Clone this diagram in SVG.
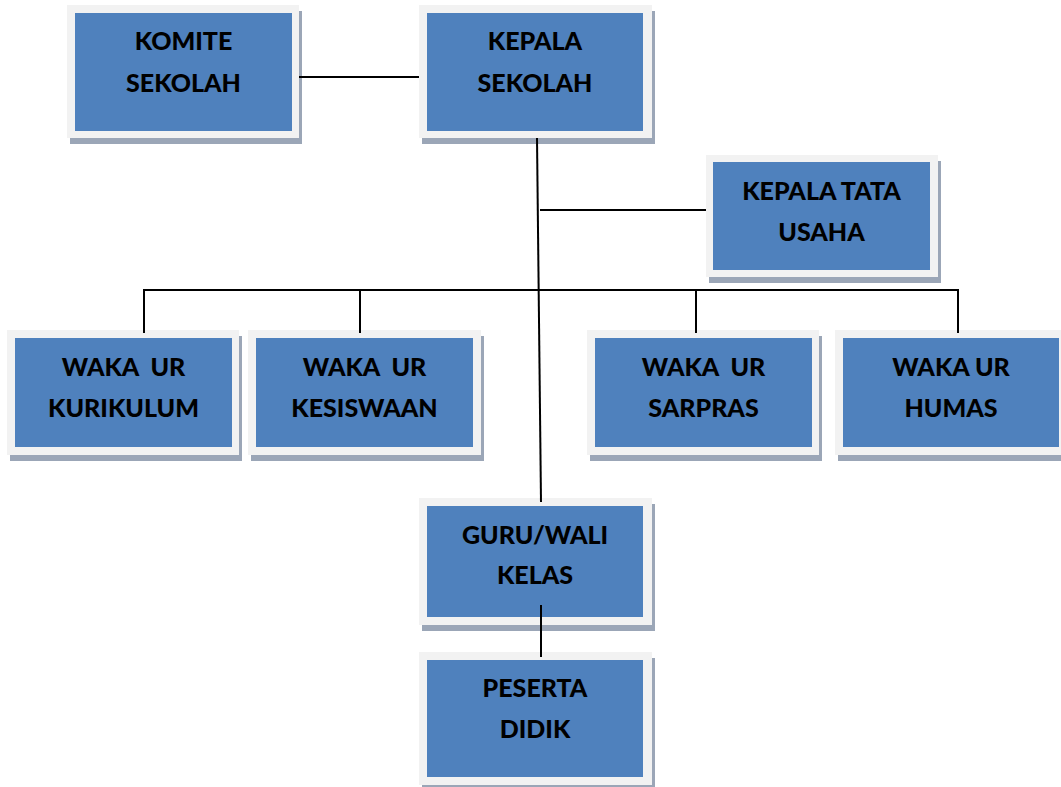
<svg xmlns="http://www.w3.org/2000/svg" width="1061" height="787" viewBox="0 0 1061 787">
<style>
.sh{fill:#9ba6b7}
.fr{fill:#f2f2f2}
.bl{fill:#4f81bd}
.t{font-family:Lato,"Liberation Sans",sans-serif;font-weight:900;font-size:25px;fill:#000;text-anchor:middle;white-space:pre}
.c{stroke:#000;stroke-width:2;fill:none}
</style>
<rect width="1061" height="787" fill="#fff"/>
<g id="komite">
<rect class="sh" x="70" y="11" width="232" height="133"/>
<rect class="fr" x="67" y="5" width="232" height="133"/>
<rect class="bl" x="75" y="13" width="217" height="118"/>
<text class="t" x="183.5" y="50">KOMITE</text>
<text class="t" x="183.5" y="92">SEKOLAH</text>
</g>
<g id="kepala">
<rect class="sh" x="422" y="11" width="233" height="133"/>
<rect class="fr" x="419" y="5" width="233" height="133"/>
<rect class="bl" x="427" y="13" width="216" height="118"/>
<text class="t" x="535" y="50">KEPALA</text>
<text class="t" x="535" y="92">SEKOLAH</text>
</g>
<g id="tata">
<rect class="sh" x="709" y="161" width="232" height="122"/>
<rect class="fr" x="706" y="155" width="232" height="122"/>
<rect class="bl" x="713" y="162" width="217" height="108"/>
<text class="t" x="821.5" y="200">KEPALA TATA</text>
<text class="t" x="821.5" y="241">USAHA</text>
</g>
<g id="kurikulum">
<rect class="sh" x="10" y="336" width="232" height="125"/>
<rect class="fr" x="7" y="330" width="232" height="125"/>
<rect class="bl" x="15" y="338" width="217" height="109"/>
<text class="t" x="123.5" y="376">WAKA  UR</text>
<text class="t" x="123.5" y="417">KURIKULUM</text>
</g>
<g id="kesiswaan">
<rect class="sh" x="251" y="336" width="233" height="125"/>
<rect class="fr" x="248" y="330" width="233" height="125"/>
<rect class="bl" x="256" y="338" width="217" height="109"/>
<text class="t" x="364.5" y="376">WAKA  UR</text>
<text class="t" x="364.5" y="417">KESISWAAN</text>
</g>
<g id="sarpras">
<rect class="sh" x="590" y="336" width="232" height="125"/>
<rect class="fr" x="587" y="330" width="232" height="125"/>
<rect class="bl" x="595" y="338" width="217" height="109"/>
<text class="t" x="703.5" y="376">WAKA  UR</text>
<text class="t" x="703.5" y="417">SARPRAS</text>
</g>
<g id="humas">
<rect class="sh" x="838" y="336" width="232" height="125"/>
<rect class="fr" x="835" y="330" width="232" height="125"/>
<rect class="bl" x="843" y="338" width="216" height="109"/>
<text class="t" x="951" y="376">WAKA UR</text>
<text class="t" x="951" y="417">HUMAS</text>
</g>
<g id="guru">
<rect class="sh" x="422" y="504" width="233" height="127"/>
<rect class="fr" x="419" y="498" width="233" height="127"/>
<rect class="bl" x="427" y="506" width="216" height="111"/>
<text class="t" x="535" y="544">GURU/WALI</text>
<text class="t" x="535" y="584">KELAS</text>
</g>
<g id="peserta">
<rect class="sh" x="422" y="658" width="233" height="133"/>
<rect class="fr" x="419" y="652" width="233" height="133"/>
<rect class="bl" x="427" y="660" width="216" height="117"/>
<text class="t" x="535" y="697">PESERTA</text>
<text class="t" x="535" y="738">DIDIK</text>
</g>
<g id="connectors">
<line class="c" x1="299" y1="77" x2="419" y2="77"/>
<line class="c" x1="537" y1="138" x2="541" y2="502"/>
<line class="c" x1="540" y1="210" x2="706" y2="210"/>
<line class="c" x1="143" y1="290" x2="959" y2="290"/>
<line class="c" x1="144" y1="289" x2="144" y2="333"/>
<line class="c" x1="360" y1="289" x2="360" y2="333"/>
<line class="c" x1="696" y1="289" x2="696" y2="333"/>
<line class="c" x1="958" y1="289" x2="958" y2="333"/>
<line class="c" x1="541" y1="605" x2="541" y2="657"/>
</g>
</svg>
